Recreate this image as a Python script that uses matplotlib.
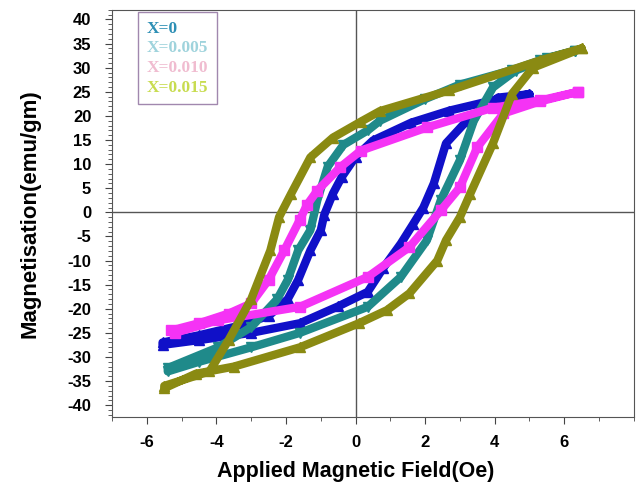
import matplotlib
matplotlib.use("Agg")
import matplotlib.pyplot as plt
from matplotlib.ticker import MultipleLocator

plt.rcParams["axes.unicode_minus"] = False

# hysteresis loops: upper branch (high -> low field),
# then lower branch (low -> high field)
h_x0 = [5.0, 4.1, 2.7, 1.6, 0.5, 0.0, -0.4, -0.65, -0.9, -1.0, -1.3, -1.65, -1.95, -2.5, -3.5, -4.5, -5.55,
        -5.55, -4.5, -3.0, -1.6, -0.5, 0.35, 0.8, 1.3, 1.65, 1.95, 2.25, 2.6, 3.2, 4.1, 5.0]
m_x0 = [24.5, 23.5, 21.1, 18.6, 14.9, 11.5, 7.3, 3.9, -0.5, -3.7, -7.9, -14.0, -18.0, -21.5, -23.8, -25.5, -27.0,
        -27.5, -26.5, -25.0, -23.0, -19.5, -16.5, -11.5, -6.5, -2.5, 1.0, 6.0, 14.3, 19.0, 23.8, 24.5]

h_x005 = [6.3, 5.3, 4.5, 3.0, 2.0, 0.7, 0.35, -0.35, -0.8, -1.1, -1.3, -1.65, -1.95, -2.25, -3.0, -3.95, -5.4,
          -5.4, -4.5, -3.0, -1.6, 0.35, 1.3, 2.05, 2.45, 3.0, 3.4, 3.95, 4.6, 5.5, 6.3]
m_x005 = [33.5, 31.5, 29.5, 26.5, 23.5, 19.0, 17.0, 14.0, 9.5, 2.5, -3.7, -7.9, -14.0, -18.0, -23.8, -28.0, -32.3,
          -33.0, -31.0, -28.0, -25.0, -19.6, -13.4, -5.8, 2.5, 10.8, 19.0, 25.9, 29.4, 32.0, 33.5]

h_x010 = [6.4, 5.3, 3.95, 2.05, 0.15, -0.45, -1.1, -1.4, -1.6, -2.05, -2.5, -3.0, -3.65, -4.5, -5.3,
          -5.2, -3.95, -1.6, 0.35, 1.55, 2.45, 3.0, 3.5, 4.25, 5.3, 6.4]
m_x010 = [25.0, 23.2, 21.7, 17.6, 12.8, 9.3, 4.5, 1.5, -1.5, -7.9, -14.0, -18.9, -21.0, -23.0, -24.5,
          -25.0, -22.4, -19.6, -13.4, -7.2, 0.4, 5.2, 13.5, 20.5, 23.0, 25.0]

h_x015 = [6.5, 5.3, 2.7, 0.7, 0.15, -0.65, -1.3, -1.85, -2.2, -2.45, -3.0, -3.65, -4.2, -5.5,
          -5.5, -4.6, -3.5, -1.6, 0.1, 0.9, 1.55, 2.35, 2.6, 3.0, 3.3, 3.95, 4.5, 5.1, 6.5]
m_x015 = [34.0, 31.5, 25.3, 21.0, 18.8, 15.5, 11.4, 3.9, -1.0, -7.9, -18.0, -26.5, -33.0, -36.0,
          -36.5, -33.5, -32.0, -28.0, -23.0, -20.3, -16.8, -10.0, -5.8, -1.0, 3.9, 14.3, 24.6, 30.0, 34.0]

labels = ["X=0", "X=0.005", "X=0.010", "X=0.015"]
line_colors = ["#1010c8", "#1f8a8a", "#f533f5", "#8a8a12"]
label_colors = ["#2d8fb5", "#9fd3dc", "#f0bcd0", "#c8dc50"]
markers = ["^", "v", "s", "^"]

fig = plt.figure(figsize=(6.37, 4.92), dpi=100)
ax = fig.add_axes([0.176, 0.152, 0.819, 0.828])

ax.axhline(0, color="#555555", lw=1, zorder=1)
ax.axvline(0, color="#555555", lw=1, zorder=1)

series = [(h_x0, m_x0), (h_x005, m_x005), (h_x010, m_x010), (h_x015, m_x015)]
for (h, m), c, mk in zip(series, line_colors, markers):
    ax.plot(h, m, color=c, lw=6, marker=mk, ms=7, solid_joinstyle="round",
            solid_capstyle="round", zorder=2)

ax.set_xlim(-7, 8)
ax.set_ylim(-42.5, 42)
ax.set_xticks([-6, -4, -2, 0, 2, 4, 6])
ax.xaxis.set_minor_locator(MultipleLocator(1))
ax.yaxis.set_major_locator(MultipleLocator(5))
ax.yaxis.set_minor_locator(MultipleLocator(1))
ax.tick_params(which="major", direction="out", length=5, color="#444444")
ax.tick_params(which="minor", direction="out", length=3, color="#444444")
ax.tick_params(axis="y", which="major", pad=10)
ax.tick_params(axis="x", which="major", pad=8)
for lab in ax.get_xticklabels() + ax.get_yticklabels():
    lab.set_fontweight("bold")
    lab.set_fontsize(12)
    lab.set_family("Liberation Sans")
for s in ax.spines.values():
    s.set_color("#555555")

ax.set_xlabel("Applied Magnetic Field(Oe)", fontsize=15.5, fontweight="bold",
              family="Liberation Sans")
ax.set_ylabel("Magnetisation(emu/gm)", fontsize=16, fontweight="bold",
              family="Liberation Sans")
ax.xaxis.set_label_coords(0.466, -0.108)
ax.yaxis.set_label_coords(-0.137, 0.5)

# legend: coloured text only, in a thin box
handles = [plt.Line2D([], [], lw=0) for _ in labels]
leg = ax.legend(handles, labels, loc="upper left", bbox_to_anchor=(0.05, 0.995),
                borderaxespad=0, handlelength=0, handletextpad=0, frameon=True,
                fancybox=False, borderpad=0.5, labelspacing=0.2,
                prop={"family": "Liberation Serif", "size": 12.5, "weight": "bold"})
leg.get_frame().set_edgecolor("#8a6a9a")
leg.get_frame().set_linewidth(1)
for t, c in zip(leg.get_texts(), label_colors):
    t.set_color(c)
    t.set_ha("center")

fig.savefig("out.png", dpi=100)
